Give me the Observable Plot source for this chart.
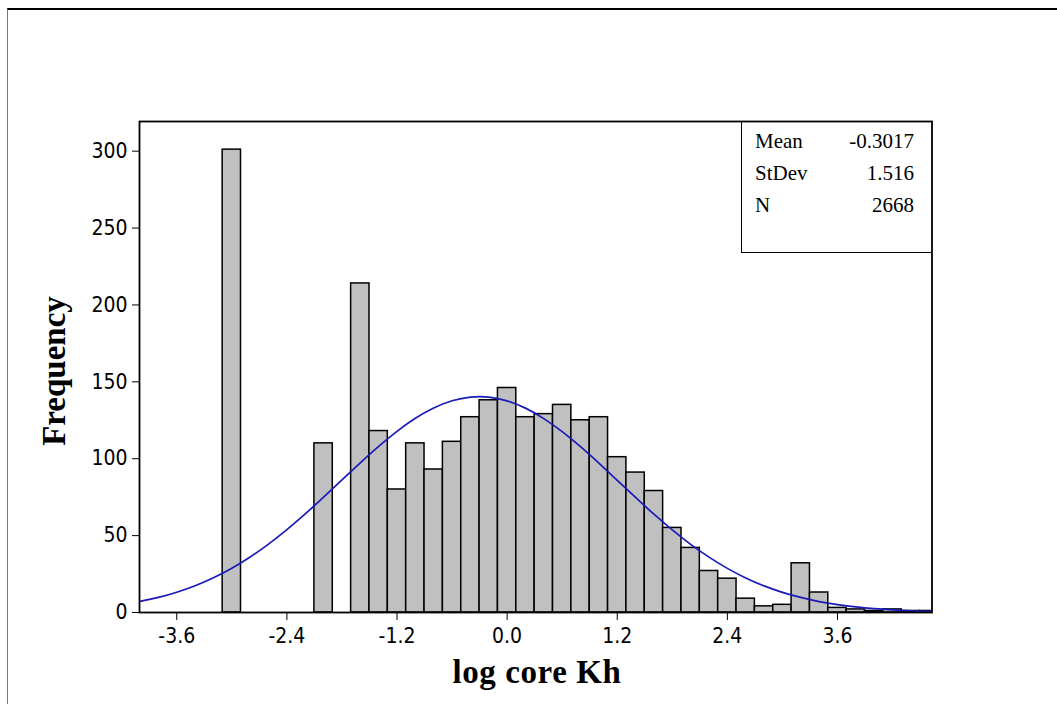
<!DOCTYPE html>
<html>
<head>
<meta charset="utf-8">
<script src="https://cdn.jsdelivr.net/npm/d3@7"></script>
<script src="https://cdn.jsdelivr.net/npm/@observablehq/plot@0.6"></script>
<style>
  html, body { margin: 0; padding: 0; background: #fff; }
  #wrap { position: relative; width: 1057px; height: 704px; overflow: hidden; background: #fff; }
  #border { position: absolute; left: 7px; top: 8px; width: 1060px; height: 700px;
            border-top: 2px solid #000; border-left: 1px solid #777; box-sizing: border-box; }
  #chart { position: absolute; left: 0; top: 0; }
  .title { position: absolute; font-family: "Liberation Serif", "Times New Roman", serif; font-weight: bold; color: #000; white-space: nowrap; }
  #xtitle { left: 537px; top: 654px; transform: translateX(-50%); font-size: 33px; letter-spacing: 0.6px; }
  #ytitle { left: 54px; top: 371px; transform: translate(-50%, -50%) rotate(-90deg); font-size: 33px; }
  #stats { position: absolute; left: 741px; top: 121px; width: 190px; height: 132px;
           border: 1.5px solid #000; border-top: none; border-right: none; box-sizing: border-box;
           font-family: "Liberation Serif", "Times New Roman", serif; font-size: 21px; color: #000; }
  #stats .row { position: absolute; left: 13px; right: 17px; display: flex; justify-content: space-between; }
</style>
</head>
<body>
<div id="wrap">
  <div id="border"></div>
  <div id="chart"></div>
  <div id="xtitle" class="title"></div>
  <div id="ytitle" class="title"></div>
  <div id="stats"></div>
</div>
<script>
// Histogram bins (centres, width 0.2) and counts
const binCenters = [-3.0, -2.0, -1.6, -1.4, -1.2, -1.0, -0.8, -0.6, -0.4, -0.2, 0.0, 0.2, 0.4, 0.6, 0.8, 1.0, 1.2, 1.4, 1.6, 1.8, 2.0, 2.2, 2.4, 2.6, 2.8, 3.0, 3.2, 3.4, 3.6, 3.8, 4.0, 4.2, 4.4, 4.6];
const counts     = [301, 110, 214, 118, 80, 110, 93, 111, 127, 138, 146, 127, 129, 135, 125, 127, 101, 91, 79, 55, 42, 27, 22, 9, 4, 5, 32, 13, 3, 2, 1, 2, 1, 1];
const binWidth = 0.2;

const curveX = [-4.0, -3.8, -3.6, -3.4, -3.2, -3.0, -2.8, -2.6, -2.4, -2.2, -2.0, -1.8, -1.6, -1.4, -1.2, -1.0, -0.8, -0.6, -0.4, -0.2, 0.0, 0.2, 0.4, 0.6, 0.8, 1.0, 1.2, 1.4, 1.6, 1.8, 2.0, 2.2, 2.4, 2.6, 2.8, 3.0, 3.2, 3.4, 3.6, 3.8, 4.0, 4.2, 4.4, 4.6, 4.8];
const curveY = [7.2, 9.8, 13.2, 17.4, 22.6, 28.8, 36.1, 44.5, 53.9, 64.1, 75.0, 86.2, 97.3, 108.0, 117.8, 126.3, 133.0, 137.7, 140.1, 140.1, 137.6, 132.9, 126.1, 117.6, 107.8, 97.1, 86.0, 74.8, 63.9, 53.7, 44.3, 36.0, 28.7, 22.5, 17.3, 13.1, 9.8, 7.1, 5.1, 3.6, 2.5, 1.7, 1.1, 0.75, 0.5];

// Tick labels
const xTicks = [-3.6, -2.4, -1.2, 0.0, 1.2, 2.4, 3.6];
const yTicks = [0, 50, 100, 150, 200, 250, 300];

// Texts
const xTitle = "log core Kh";
const yTitle = "Frequency";
const statLabels = ["Mean", "StDev", "N"];
const statValues = ["-0.3017", "1.516", "2668"];

const bins = binCenters.map((c, i) => ({x1: c - binWidth / 2, x2: c + binWidth / 2, y: counts[i]}));
const curve = curveX.map((x, i) => ({x, y: curveY[i]}));

const chart = Plot.plot({
  width: 1057,
  height: 704,
  marginLeft: 139,
  marginRight: 125.5,
  marginTop: 121,
  marginBottom: 92,
  style: {fontFamily: "'DejaVu Sans Condensed', Tahoma, sans-serif", fontSize: "21px", color: "#000", background: "transparent"},
  x: {domain: [-4.006, 4.63], ticks: xTicks, tickFormat: d => d.toFixed(1), tickSize: 8, tickPadding: 8, label: null},
  y: {domain: [0, 319.3], ticks: yTicks, tickSize: 7, tickPadding: 5, label: null},
  marks: [
    Plot.rectY(bins, {x1: "x1", x2: "x2", y: "y", fill: "#c0c0c0", stroke: "#000", strokeWidth: 1.5, inset: 0, clip: true}),
    Plot.line(curve, {x: "x", y: "y", stroke: "#1a1ab8", strokeWidth: 1.7, curve: "natural", clip: true}),
    Plot.frame({stroke: "#000", strokeWidth: 1.8})
  ]
});
document.getElementById("chart").appendChild(chart);
document.getElementById("xtitle").textContent = xTitle;
document.getElementById("ytitle").textContent = yTitle;
const stats = document.getElementById("stats");
statLabels.forEach((lab, i) => {
  const row = document.createElement("div");
  row.className = "row";
  row.style.top = (8 + i * 32) + "px";
  const a = document.createElement("span"); a.textContent = lab;
  const b = document.createElement("span"); b.textContent = statValues[i];
  row.appendChild(a); row.appendChild(b);
  stats.appendChild(row);
});
</script>
</body>
</html>
